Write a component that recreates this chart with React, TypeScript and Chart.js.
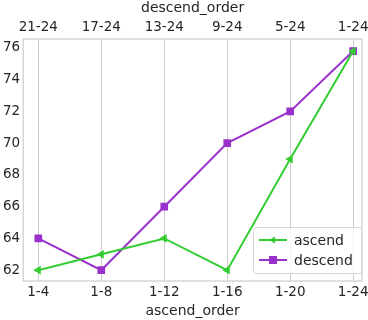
import React, { useEffect, useRef } from "react";
import { Chart, registerables } from "chart.js";

Chart.register(...registerables);

const bottomLabels = ["1-4", "1-8", "1-12", "1-16", "1-20", "1-24"];
const topLabels = ["21-24", "17-24", "13-24", "9-24", "5-24", "1-24"];
const ascendValues = [62, 63, 64, 62, 69, 75.8];
const descendValues = [64, 62, 66, 70, 72, 75.8];
const yTicks = [62, 64, 66, 68, 70, 72, 74, 76];

const GREEN = "#33cc33";
const PURPLE = "#9932cc";
const FONT = "'DejaVu Sans', sans-serif";

const frameAndLegend = {
  id: "frameAndLegend",
  beforeDatasetsDraw(chart: any) {
    const { ctx, chartArea: a } = chart;
    ctx.save();
    ctx.strokeStyle = "#cccccc";
    ctx.lineWidth = 1.2;
    ctx.strokeRect(a.left, a.top, a.right - a.left, a.bottom - a.top);
    ctx.restore();
  },
  afterDatasetsDraw(chart: any) {
    const { ctx, chartArea: a } = chart;
    const w = 108, h = 46;
    const x = a.right - w - 1, y = a.bottom - h - 8;
    ctx.save();
    ctx.fillStyle = "rgba(255,255,255,0.8)";
    ctx.strokeStyle = "#d6d6d6";
    ctx.lineWidth = 1;
    ctx.beginPath();
    if (ctx.roundRect) ctx.roundRect(x + 0.5, y + 0.5, w, h, 3);
    else ctx.rect(x + 0.5, y + 0.5, w, h);
    ctx.fill();
    ctx.stroke();
    ctx.font = `14px ${FONT}`;
    ctx.textBaseline = "middle";
    chart.data.datasets.forEach((ds: any, i: number) => {
      const cy = y + 13 + i * 20;
      ctx.strokeStyle = ds.borderColor;
      ctx.lineWidth = 2;
      ctx.beginPath();
      ctx.moveTo(x + 6, cy);
      ctx.lineTo(x + 34, cy);
      ctx.stroke();
      ctx.fillStyle = ds.borderColor;
      if (ds.pointStyle === "rect") {
        ctx.fillRect(x + 20 - 4, cy - 4, 8, 8);
      } else {
        ctx.beginPath();
        ctx.moveTo(x + 16, cy);
        ctx.lineTo(x + 22, cy - 3.5);
        ctx.lineTo(x + 22, cy + 3.5);
        ctx.closePath();
        ctx.fill();
      }
      ctx.fillStyle = "#262626";
      ctx.fillText(ds.label, x + 41, cy + 1);
    });
    ctx.restore();
  },
};

const setTicks = (scale: any) => {
  scale.ticks = bottomLabels.map((_, i) => ({ value: i }));
};
const fixPad = (scale: any) => {
  scale.paddingRight = 0;
  scale.paddingLeft = 0;
};

export default function App() {
  const ref = useRef<HTMLCanvasElement>(null);
  useEffect(() => {
    if (!ref.current) return;
    const chart = new Chart(ref.current, {
      type: "line",
      data: {
        datasets: [
          {
            label: "ascend",
            data: ascendValues.map((v, i) => ({ x: i, y: v })),
            borderColor: GREEN,
            backgroundColor: GREEN,
            borderWidth: 2,
            pointStyle: "triangle",
            rotation: -90,
            pointRadius: 3,
            xAxisID: "x",
          },
          {
            label: "descend",
            data: descendValues.map((v, i) => ({ x: i, y: v })),
            borderColor: PURPLE,
            backgroundColor: PURPLE,
            borderWidth: 2,
            pointStyle: "rect",
            pointRadius: 4,
            xAxisID: "x",
          },
        ],
      },
      options: {
        animation: false,
        responsive: false,
        layout: { padding: { left: 0, right: 6, top: 0, bottom: 0 } },
        plugins: { legend: { display: false }, tooltip: { enabled: false } },
        scales: {
          x: {
            type: "linear",
            position: "bottom",
            min: -0.24,
            max: 5.14,
            afterBuildTicks: setTicks,
            afterFit: fixPad,
            ticks: {
              callback: (v: any) => bottomLabels[Math.round(v)],
              color: "#262626",
              font: { family: FONT, size: 13.5 },
              padding: 3,
              maxRotation: 0,
              autoSkip: false,
            },
            grid: { color: "#cccccc", drawTicks: false, lineWidth: 1 },
            border: { display: false },
            title: {
              display: true,
              text: "ascend_order",
              color: "#262626",
              font: { family: FONT, size: 14 },
              padding: { top: 0, bottom: 0 },
            },
          },
          x2: {
            type: "linear",
            position: "top",
            min: -0.24,
            max: 5.14,
            afterBuildTicks: setTicks,
            afterFit: fixPad,
            ticks: {
              callback: (v: any) => topLabels[Math.round(v)],
              color: "#262626",
              font: { family: FONT, size: 13.5 },
              padding: 3,
              maxRotation: 0,
              autoSkip: false,
            },
            grid: { display: false, drawTicks: false },
            border: { display: false },
            title: {
              display: true,
              text: "descend_order",
              color: "#262626",
              font: { family: FONT, size: 14 },
              padding: { top: 0, bottom: 0 },
            },
          },
          y: {
            min: 61.32,
            max: 76.56,
            afterBuildTicks: (scale: any) => {
              scale.ticks = yTicks.map((v) => ({ value: v }));
            },
            ticks: {
              color: "#262626",
              font: { family: FONT, size: 13.5 },
              padding: 3,
            },
            grid: { display: false, drawTicks: false },
            border: { display: false },
          },
        },
      },
      plugins: [frameAndLegend],
    } as any);
    return () => chart.destroy();
  }, []);
  return (
    <div style={{ position: "fixed", left: 0, top: 0, width: 368, height: 320, background: "#fff" }}>
      <canvas ref={ref} width={368} height={320} />
    </div>
  );
}
